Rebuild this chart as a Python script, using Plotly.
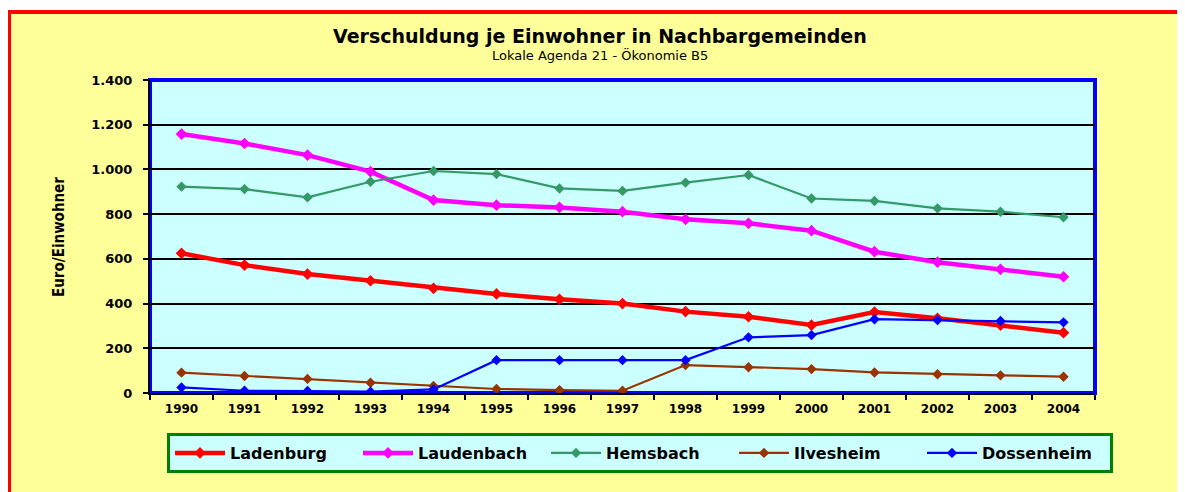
import plotly.graph_objects as go

years = ["1990", "1991", "1992", "1993", "1994", "1995", "1996", "1997",
         "1998", "1999", "2000", "2001", "2002", "2003", "2004"]

ladenburg = [625, 572, 532, 502, 468, 443, 419, 400, 364, 341, 304, 362, 334, 304, 270]
laudenbach = [1158, 1116, 1064, 990, 863, 840, 830, 811, 777, 759, 726, 632, 585, 553, 520]
hemsbach = [923, 912, 875, 945, 993, 979, 915, 904, 941, 975, 870, 859, 826, 811, 786]
ilvesheim = [91, 76, 63, 46, 31, 18, 13, 10, 125, 115, 107, 92, 84, 79, 73]
dossenheim = [25, 10, 9, 6, 16, 147, 147, 147, 147, 249, 259, 330, 326, 322, 316]

y_tickvals = [0, 200, 400, 600, 800, 1000, 1200, 1400]
y_ticktext = ["0", "200", "400", "600", "800", "1.000", "1.200", "1.400"]

series = [
    ("Ladenburg", ladenburg, "#FF0000", 4.5, 9),
    ("Laudenbach", laudenbach, "#FF00FF", 4.5, 9),
    ("Hemsbach", hemsbach, "#339966", 2.2, 8),
    ("Ilvesheim", ilvesheim, "#993300", 2.2, 8),
    ("Dossenheim", dossenheim, "#0000FF", 2.2, 8),
]

fig = go.Figure()
for name, vals, color, lw, ms in series:
    fig.add_trace(go.Scatter(
        x=years, y=vals, name=name, mode="lines+markers",
        line=dict(color=color, width=lw),
        marker=dict(symbol="diamond", size=ms, color=color),
    ))

# the page body adds an 8px offset; work in figure pixels
OFF = 8
W, H = 1185 - OFF, 492 - OFF
L, R, T, B = 150 - OFF, 1185 - 1095, 80 - OFF, 492 - 393
pw, ph = W - L - R, H - T - B


def px(x):
    return (x - OFF - L) / pw


def py(y):
    return (H - B - (y - OFF)) / ph


font_main = "DejaVu Sans, Liberation Sans, Arial, sans-serif"

shapes = [
    dict(type="rect", xref="paper", yref="paper", x0=px(-20), x1=px(1300), y0=py(10), y1=py(-20),
         fillcolor="white", line=dict(width=0), layer="below"),
    dict(type="line", xref="paper", yref="paper", x0=px(7), x1=px(1300), y0=py(12), y1=py(12),
         line=dict(color="#FF0000", width=4)),
    dict(type="line", xref="paper", yref="paper", x0=px(9), x1=px(9), y0=py(10), y1=py(600),
         line=dict(color="#FF0000", width=4)),
    dict(type="rect", xref="paper", yref="paper", x0=0, x1=1, y0=0, y1=1,
         line=dict(color="#0000FF", width=4), layer="below"),
]

annotations = [
    dict(text="<b>Verschuldung je Einwohner in Nachbargemeinden</b>", xref="paper", yref="paper",
         x=px(600), y=py(36), showarrow=False, xanchor="center", yanchor="middle",
         font=dict(family=font_main, size=19, color="black")),
    dict(text="Lokale Agenda 21 - Ökonomie B5", xref="paper", yref="paper",
         x=px(600), y=py(55), showarrow=False, xanchor="center", yanchor="middle",
         font=dict(family=font_main, size=13, color="black")),
    dict(text="<b>Euro/Einwohner</b>", xref="paper", yref="paper",
         x=px(59), y=py(237), showarrow=False, textangle=-90, xanchor="center", yanchor="middle",
         font=dict(family="Liberation Sans Narrow, DejaVu Sans Condensed, Liberation Sans, sans-serif",
                   size=15, color="black")),
]

fig.update_layout(
    width=W, height=H,
    margin=dict(l=L, r=R, t=T, b=B, autoexpand=False),
    paper_bgcolor="#FFFF99",
    plot_bgcolor="#CCFFFF",
    shapes=shapes,
    annotations=annotations,
    showlegend=True,
    legend=dict(
        orientation="h", x=px(167), y=py(433), xanchor="left", yanchor="top",
        bgcolor="#CCFFFF", bordercolor="#008000", borderwidth=3,
        font=dict(family=font_main, size=16, color="black", weight="bold"),
        itemwidth=50, entrywidth=123, entrywidthmode="pixels",
        traceorder="normal",
    ),
    xaxis=dict(
        type="category", range=[-0.5, 14.5], tickson="boundaries",
        ticks="outside", ticklen=5, tickcolor="black", tickwidth=1.5,
        showline=True, linecolor="black", linewidth=2, showgrid=False,
        tickfont=dict(family=font_main, size=12, color="black", weight="bold"),
        ticklabelstandoff=4,
        fixedrange=True,
    ),
    yaxis=dict(
        range=[0, 1400], tickvals=y_tickvals, ticktext=y_ticktext,
        ticks="outside", ticklen=5, tickcolor="black", tickwidth=1.5,
        showline=True, linecolor="black", linewidth=2,
        showgrid=True, gridcolor="black", gridwidth=1.5, zeroline=False,
        tickfont=dict(family=font_main, size=13, color="black", weight="bold"),
        ticklabelstandoff=8,
        fixedrange=True,
    ),
)

fig.write_html("out.html")
